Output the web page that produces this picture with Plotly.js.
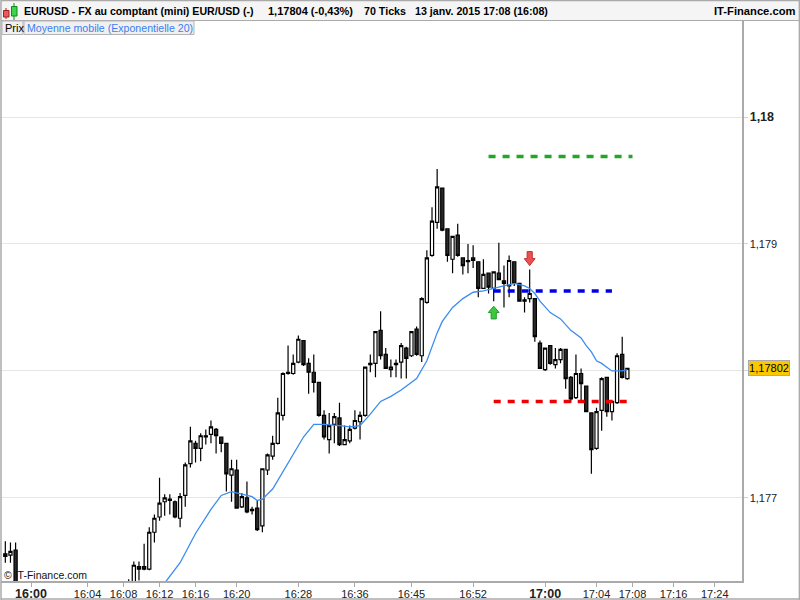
<!DOCTYPE html>
<html>
<head>
<meta charset="utf-8">
<script src="https://cdn.plot.ly/plotly-3.0.1.min.js"></script>
<style>body{margin:0;background:#fff}#chart{width:800px;height:600px}</style>
</head>
<body>
<div id="chart"></div>
<script>
// bar number on the 70 ticks axis (bars 3 to 23 sit below the visible range)
var barIdx = [0,1,2,24,25,26,27,28,29,30,31,32,33,34,35,36,37,38,39,40,41,42,43,44,45,46,47,48,49,50,51,52,53,54,55,56,57,58,59,60,61,62,63,64,65,66,67,68,69,70,71,72,73,74,75,76,77,78,79,80,81,82,83,84,85,86,87,88,89,90,91,92,93,94,95,96,97,98,99,100,101,102,103,104,105,106,107,108,109,110,111,112,113,114,115,116,117,118,119,120,121];

var highs = [1.17666,1.17665,1.17665,1.17636,1.17650,1.17650,1.17664,1.17677,1.17687,1.17716,1.17703,1.17703,1.17698,1.17704,1.17728,1.17756,1.17745,1.17751,1.17754,1.17761,1.17755,1.17748,1.17743,1.17730,1.17730,1.17704,1.17713,1.17693,1.17698,1.17723,1.17735,1.17749,1.17779,1.17799,1.17820,1.17813,1.17828,1.17824,1.17810,1.17813,1.17791,1.17769,1.17767,1.17767,1.17775,1.17757,1.17757,1.17769,1.17768,1.17803,1.17813,1.17831,1.17847,1.17818,1.17809,1.17809,1.17822,1.17819,1.17831,1.17835,1.17858,1.17895,1.17929,1.17959,1.17944,1.17912,1.17906,1.17916,1.17889,1.17900,1.17899,1.17886,1.17888,1.17877,1.17878,1.17901,1.17883,1.17891,1.17886,1.17869,1.17858,1.17880,1.17857,1.17824,1.17818,1.17820,1.17818,1.17818,1.17817,1.17796,1.17813,1.17802,1.17788,1.17767,1.17771,1.17795,1.17795,1.17776,1.17814,1.17827,1.17802];
var opens = [1.17656,1.17655,1.17659,1.17620,1.17620,1.17646,1.17646,1.17644,1.17673,1.17685,1.17697,1.17699,1.17697,1.17684,1.17702,1.17727,1.17743,1.17739,1.17749,1.17750,1.17754,1.17748,1.17743,1.17718,1.17722,1.17693,1.17700,1.17691,1.17692,1.17678,1.17722,1.17733,1.17743,1.17765,1.17799,1.17798,1.17807,1.17824,1.17806,1.17799,1.17791,1.17765,1.17746,1.17758,1.17763,1.17742,1.17745,1.17755,1.17760,1.17765,1.17805,1.17806,1.17832,1.17813,1.17801,1.17806,1.17807,1.17818,1.17812,1.17833,1.17812,1.17854,1.17891,1.17917,1.17944,1.17912,1.17888,1.17907,1.17889,1.17886,1.17889,1.17886,1.17865,1.17877,1.17865,1.17877,1.17871,1.17867,1.17886,1.17869,1.17856,1.17857,1.17857,1.17822,1.17801,1.17820,1.17805,1.17809,1.17817,1.17795,1.17779,1.17798,1.17788,1.17767,1.17739,1.17769,1.17795,1.17768,1.17775,1.17813,1.17794];
var closes = [1.17654,1.17658,1.17620,1.17628,1.17647,1.17644,1.17644,1.17673,1.17684,1.17696,1.17700,1.17698,1.17685,1.17701,1.17726,1.17745,1.17739,1.17749,1.17748,1.17756,1.17749,1.17743,1.17719,1.17723,1.17692,1.17701,1.17689,1.17690,1.17675,1.17723,1.17734,1.17743,1.17767,1.17798,1.17798,1.17806,1.17825,1.17805,1.17799,1.17791,1.17765,1.17748,1.17757,1.17764,1.17742,1.17746,1.17754,1.17761,1.17765,1.17803,1.17806,1.17831,1.17812,1.17802,1.17803,1.17805,1.17820,1.17810,1.17831,1.17813,1.17857,1.17889,1.17918,1.17945,1.17911,1.17891,1.17906,1.17891,1.17883,1.17887,1.17887,1.17865,1.17876,1.17866,1.17878,1.17872,1.17869,1.17887,1.17869,1.17855,1.17855,1.17861,1.17827,1.17802,1.17818,1.17806,1.17809,1.17817,1.17794,1.17778,1.17798,1.17790,1.17768,1.17738,1.17768,1.17794,1.17768,1.17776,1.17812,1.17795,1.17802];
var lows = [1.17649,1.17649,1.17612,1.17616,1.17616,1.17635,1.17643,1.17643,1.17665,1.17682,1.17686,1.17687,1.17684,1.17677,1.17693,1.17724,1.17728,1.17729,1.17742,1.17743,1.17735,1.17736,1.17705,1.17697,1.17692,1.17692,1.17688,1.17687,1.17674,1.17673,1.17718,1.17730,1.17742,1.17761,1.17797,1.17797,1.17806,1.17804,1.17782,1.17783,1.17764,1.17746,1.17735,1.17743,1.17741,1.17742,1.17743,1.17754,1.17746,1.17764,1.17799,1.17795,1.17809,1.17802,1.17795,1.17795,1.17794,1.17794,1.17811,1.17812,1.17807,1.17853,1.17890,1.17912,1.17910,1.17886,1.17877,1.17890,1.17876,1.17877,1.17881,1.17858,1.17865,1.17861,1.17855,1.17872,1.17850,1.17858,1.17867,1.17855,1.17846,1.17854,1.17823,1.17802,1.17800,1.17805,1.17802,1.17806,1.17786,1.17775,1.17778,1.17775,1.17768,1.17719,1.17738,1.17753,1.17764,1.17761,1.17774,1.17794,1.17793];

// Moyenne mobile (Exponentielle 20)
var emaIdx = [31,34,37,40,42,44,46,48,49,50,52,54,56,58,60,62,65,67,69,71,73,75,77,79,80,82,84,85,87,89,91,93,95,97,99,101,102,103,104,106,108,110,112,113,114,115,116,117,118,119,120,121];
var emaVal = [1.17633,1.17649,1.17672,1.17691,1.17702,1.17705,1.17703,1.17701,1.17698,1.17699,1.17707,1.17721,1.17735,1.17748,1.17758,1.17758,1.17757,1.17756,1.17757,1.17766,1.17776,1.17780,1.17785,1.17791,1.17794,1.17808,1.17830,1.17839,1.17850,1.17857,1.17862,1.17863,1.17865,1.17867,1.17869,1.17867,1.17865,1.17861,1.17855,1.17846,1.17841,1.17832,1.17826,1.17820,1.17815,1.17808,1.17806,1.17803,1.17800,1.17800,1.17800,1.17801];

// dashed levels
var greenLevelX = [94,122], greenLevelY = [1.17969,1.17969];
var blueLevelX = [95,118], blueLevelY = [1.17863,1.17863];
var redLevelX = [95,121], redLevelY = [1.17776,1.17776];

var tickIdx = [5,16,23,30,37,45,57,68,79,91,105,115,122,130,138];
var tickLabels = ['<b style="font-size:12.5px">16:00</b>','16:04','16:08','16:12','16:16','16:20','16:28','16:36','16:45','16:52','<b style="font-size:12.5px">17:00</b>','17:04','17:08','17:16','17:24'];
var priceTicks = [1.177,1.178,1.179,1.18];
var priceLabels = ['1,177','','1,179','<b style="font-size:12.5px">1,18</b>'];

var lastPrice = 1.17802;

var left = 1, right = 742, top_ = 20, bottom = 581;
var W = right - left, H = bottom - top_;
function px(x) { return (x - left) / W; }
function py(y) { return (bottom - y) / H; }

function levelTrace(x, y, color) {
    return { x: x, y: y, type: 'scatter', mode: 'lines', hoverinfo: 'skip',
        line: { color: color, width: 3.5, dash: '7px,7px' } };
}

function arrowPath(i, tail, tip) {
    var neck = tail + (tip - tail) * 0.5;
    return 'M' + (i - 0.5) + ',' + tail + ' L' + (i + 0.5) + ',' + tail +
        ' L' + (i + 0.5) + ',' + neck + ' L' + (i + 1.05) + ',' + neck +
        ' L' + i + ',' + tip + ' L' + (i - 1.05) + ',' + neck +
        ' L' + (i - 0.5) + ',' + neck + ' Z';
}

function box(x0, y0, x1, y1, fill, line) {
    return { type: 'rect', xref: 'paper', yref: 'paper', x0: px(x0), x1: px(x1), y0: py(y0), y1: py(y1),
        fillcolor: fill, line: { color: line || fill, width: line ? 1 : 0 } };
}

function edge(x0, y0, x1, y1, color, width) {
    return { type: 'line', xref: 'paper', yref: 'paper', x0: px(x0), x1: px(x1), y0: py(y0), y1: py(y1),
        line: { color: color, width: width } };
}

function label(x, y, text, color, size, anchor) {
    return { xref: 'paper', yref: 'paper', x: px(x), y: py(y), text: text, showarrow: false,
        xanchor: anchor || 'left', yanchor: 'middle', borderpad: 0,
        font: { family: 'Liberation Sans', size: size || 10.7, color: color || '#000' } };
}

var traces = [
    { x: barIdx, open: opens, high: highs, low: lows, close: closes, type: 'candlestick', hoverinfo: 'skip',
      increasing: { line: { color: '#000', width: 1.2 }, fillcolor: '#fff' },
      decreasing: { line: { color: '#000', width: 1.2 }, fillcolor: '#2a2a2a' } },
    { x: emaIdx, y: emaVal, type: 'scatter', mode: 'lines', hoverinfo: 'skip',
      line: { color: '#3a8cf0', width: 1.3 } },
    levelTrace(greenLevelX, greenLevelY, '#22a52a'),
    levelTrace(blueLevelX, blueLevelY, '#0000e6'),
    levelTrace(redLevelX, redLevelY, '#f00000')
];

var layout = {
    width: 800, height: 600, showlegend: false, boxgap: 0.12,
    paper_bgcolor: '#fff', plot_bgcolor: '#fff',
    margin: { l: left, r: 800 - right, t: top_, b: 600 - bottom, pad: 0 },
    font: { family: 'Liberation Sans', size: 11, color: '#222' },
    xaxis: { range: [-0.84, 143.3], rangeslider: { visible: false }, tickmode: 'array',
        tickvals: tickIdx, ticktext: tickLabels, showgrid: false, zeroline: false, ticklabelstandoff: -2,
        ticks: 'outside', ticklen: 4, tickcolor: '#aaa', showline: true, linecolor: '#aaa', linewidth: 1.5 },
    yaxis: { range: [1.176346, 1.180764], side: 'right', tickmode: 'array',
        tickvals: priceTicks, ticktext: priceLabels, gridcolor: '#e6e6e6', zeroline: false,
        ticks: 'outside', ticklen: 4, tickcolor: '#d2d2d2', showline: true, linecolor: '#aaa', linewidth: 1.5 },
    shapes: [
        // header bar and window frame
        box(0, 1, 800, 20, '#f5f5f5'),
        edge(1, 0.5, 800, 0.5, '#aaa', 1.5),
        edge(1, 20.5, 800, 20.5, '#aaa', 1.2),
        edge(1, 0, 1, 600, '#aaa', 1.5),
        edge(799.4, 0, 799.4, 600, '#aaa', 1.5),
        edge(1, 599, 800, 599, '#aaa', 1.5),
        // legend tabs
        box(2, 21, 23, 34.5, '#f0f0f0', '#b4b4b4'),
        box(24, 21, 194, 34.5, '#f0f0f0', '#b4b4b4'),
        // logo
        edge(6, 8, 6, 19, '#a02020', 1),
        box(3.5, 10.5, 9, 17, '#e85c5c', '#a02020'),
        edge(14, 3, 14, 20, '#0d8a1a', 1),
        box(11.5, 6.5, 17, 16, '#3fd34f', '#0d8a1a'),
        // signal arrows
        { type: 'path', xref: 'x', yref: 'y', path: arrowPath(95, 1.17841, 1.17851), fillcolor: '#3fc83f', line: { color: '#1f9a2a', width: 1 } },
        { type: 'path', xref: 'x', yref: 'y', path: arrowPath(102, 1.17894, 1.17883), fillcolor: '#ea5050', line: { color: '#c03030', width: 1 } }
    ],
    annotations: [
        label(23, 10.5, '<b>EURUSD - FX au comptant (mini) EUR/USD (-)</b>', '#000', 10.6),
        label(267, 10.5, '<b>1,17804 (-0,43%)</b>', '#000', 11),
        label(363, 10.5, '<b>70 Ticks</b>'),
        label(414, 10.5, '<b>13 janv. 2015 17:08 (16:08)</b>'),
        label(796, 10.5, '<b>IT-Finance.com</b>', '#000', 11.2, 'right'),
        label(3.5, 28, 'Prix', '#000', 11),
        label(25.5, 28, 'Moyenne mobile (Exponentielle 20)', '#3a7ff0', 10.6),
        label(3, 575, '© IT-Finance.com', '#111', 10.5),
        { xref: 'paper', yref: 'y', x: px(768.5), y: lastPrice, text: '1,17802', showarrow: false,
          xanchor: 'center', yanchor: 'middle', width: 40, height: 14, bgcolor: '#fbc800', bordercolor: '#aaa', borderwidth: 1, borderpad: 0,
          font: { family: 'Liberation Sans', size: 11, color: '#000' } }
    ]
};

Plotly.newPlot('chart', traces, layout, { displayModeBar: false, staticPlot: true });
</script>
</body>
</html>
